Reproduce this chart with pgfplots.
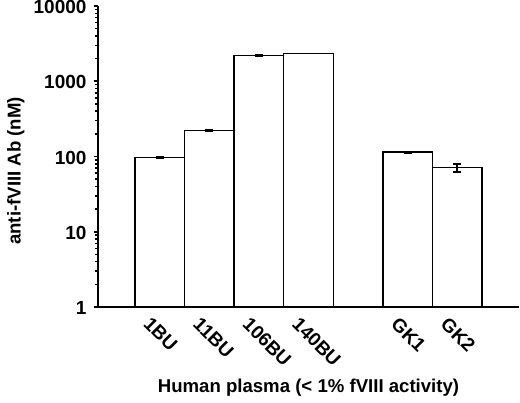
\documentclass[border=0pt]{standalone}
\usepackage{fontspec}
\setmainfont{Liberation Sans}
\usepackage{pgfplots}
\pgfplotsset{compat=1.18}

\newcommand{\lbl}{\fontsize{18.6bp}{21bp}\selectfont\bfseries}
\newcommand{\tlbl}{\fontsize{19bp}{21bp}\selectfont\bfseries}

\begin{document}
\begin{tikzpicture}
\begin{axis}[
    at={(0,0)}, anchor=south west,
    scale only axis,
    width=421bp, height=301bp,
    ymode=log,
    ymin=1, ymax=10000,
    xmin=-0.25, xmax=8.25,
    axis lines=left,
    axis line style={-, line width=1.5bp},
    ytick={1,10,100,1000,10000},
    yticklabels={1,10,100,1000,10000},
    minor ytick={},
    tick align=outside,
    major tick length=4bp,
    ytick style={line width=1.5bp, black},
    xtick={1,2,3,4,6,7},
    xticklabels={1BU,11BU,106BU,140BU,GK1,GK2},
    xtick style={draw=none},
    tick label style={font=\tlbl},
    yticklabel style={xshift=-4bp, yshift=-1bp},
    xticklabel style={anchor=north west, inner sep=0pt, xshift=-8bp, yshift=-5bp, rotate=-45},
    every axis y label/.style={at={(axis description cs:-0.195,0.452)}, rotate=90, anchor=center, font=\lbl},
    every axis x label/.style={at={(axis description cs:0.5,-0.269)}, anchor=center, font=\lbl},
    ylabel={anti-fVIII Ab (nM)},
    xlabel={Human plasma (< 1\% fVIII activity)},
    clip=false,
]
\addplot[ybar, bar width=1, fill=white, draw=black, line width=1.5bp,
    error bars/.cd, y dir=both, y explicit,
    error bar style={line width=1.5bp, black},
    error mark options={rotate=90, mark size=4bp, line width=1.5bp, black}]
coordinates {
    (1,97)   +- (0,2)
    (2,222)  +- (0,5)
    (3,2210) +- (0,60)
    (4,2330) +- (0,0)
    (6,114)  +- (0,2)
    (7,71)   +- (0,9)
};
\end{axis}
\pgfresetboundingbox
\useasboundingbox (-98bp,-96bp) rectangle (422bp,307bp);
\end{tikzpicture}
\end{document}
